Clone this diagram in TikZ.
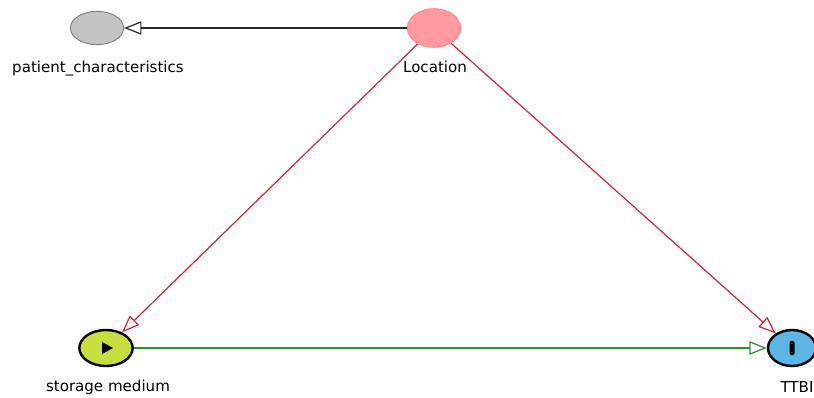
\documentclass[tikz,border=0pt]{standalone}
\usepackage{fontspec}
\setmainfont{DejaVu Sans}
\usepackage{tikz}
\usetikzlibrary{arrows.meta,shapes.geometric}
\definecolor{charcol}{HTML}{c4c4c4}
\definecolor{loccol}{HTML}{ff9aa0}
\definecolor{expcol}{HTML}{c6de3e}
\definecolor{outcol}{HTML}{5bb6e6}
\definecolor{biascol}{HTML}{d0243c}
\definecolor{causcol}{HTML}{2f8c2f}

\begin{document}
\begin{tikzpicture}[x=0.75pt, y=-0.75pt, font=\fontsize{11.3}{13}\selectfont,
  var/.style={ellipse, minimum width=40pt, minimum height=27pt, inner sep=0pt},
  edge/.style={-{Triangle[open, length=13pt, width=10pt]}, line width=0.9pt}]
\useasboundingbox (0,0) rectangle (814,397);

\node[var, draw=black!50, fill=charcol, line width=0.7pt, minimum height=25pt] (pc) at (97,28) {};
\node[var, draw=loccol!85!red, fill=loccol, line width=0.7pt, minimum height=29pt] (loc) at (434,28) {};
\node[var, draw=black, fill=expcol, line width=1.8pt] (sm) at (106,348) {};
\node[var, draw=black, fill=outcol, line width=1.8pt, minimum width=36pt] (ttbi) at (792,348) {};

\node (pclab) at (98,69) {patient\_characteristics};
\node (loclab) at (435,67) {Location};
\node (smlab) at (108,387) {storage medium};
\node (ttbilab) at (797,387) {TTBI};

% glyphs inside the exposure and outcome
\fill (102,342) -- (113,348) -- (102,354) -- cycle;
\fill[rounded corners=1pt] (789.5,341) rectangle (794.5,355);

\draw[edge, black!85] (loc) -- (pc);
\draw[edge, biascol] (loc) -- (sm);
\draw[edge, biascol] (loc) -- (ttbi);
\draw[edge, causcol] (sm) -- (ttbi);
\end{tikzpicture}
\end{document}
